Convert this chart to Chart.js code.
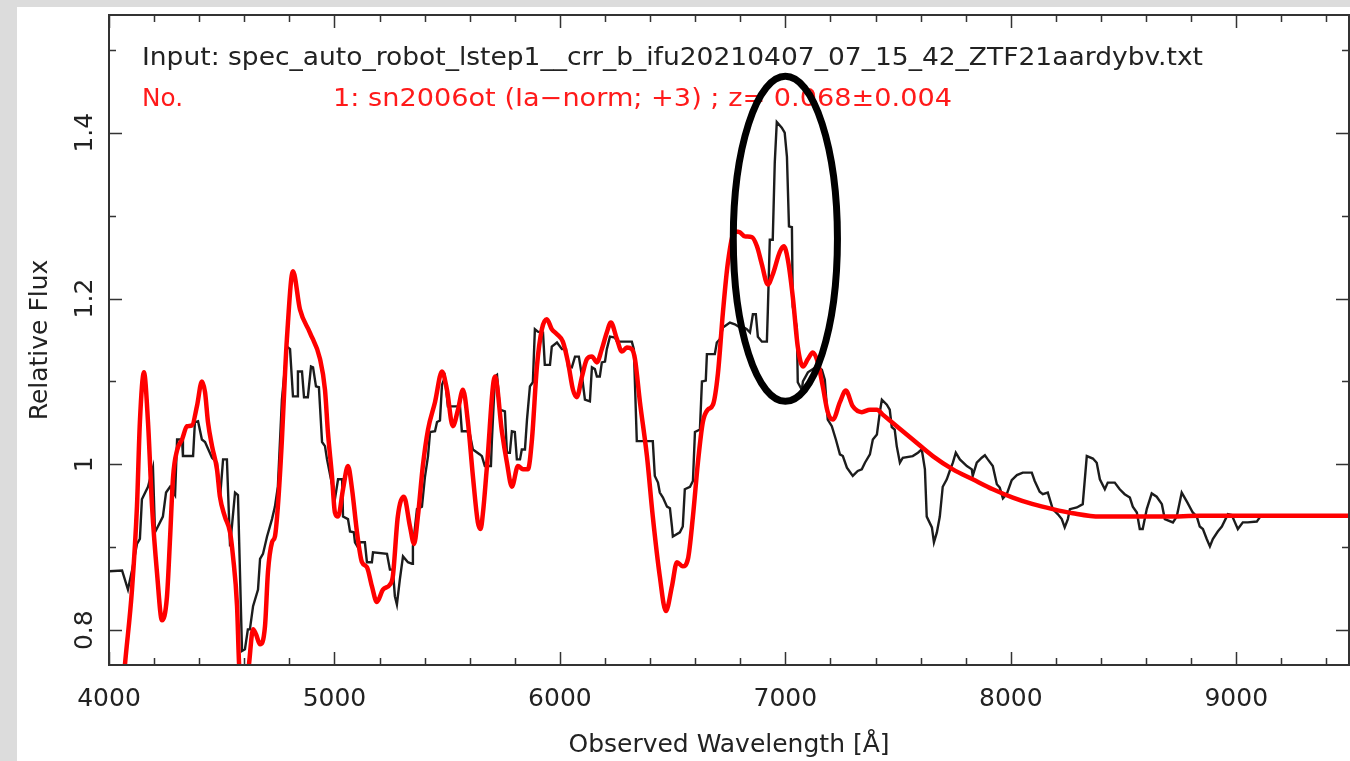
<!DOCTYPE html>
<html><head><meta charset="utf-8">
<script src="https://cdn.jsdelivr.net/npm/chart.js@4/dist/chart.umd.min.js"></script>
<style>html,body{margin:0;padding:0;background:#dcdcdc;overflow:hidden}canvas{display:block}</style>
</head><body>
<canvas id="c" width="1350" height="761"></canvas>
<script>
// ---- tick labels ----
const xTicks = [4000, 5000, 6000, 7000, 8000, 9000];
const yTicks = [0.8, 1, 1.2, 1.4];

// ---- observed spectrum (black) ----
const obsWave = [4000,4058,4084,4102,4124,4137,4146,4173,4195,4204,4239,4253,4271,4293,4302,4324,4328,4373,4381,4395,4412,4426,4457,4479,4492,4506,4523,4537,4559,4572,4590,4603,4616,4625,4639,4661,4670,4683,4701,4723,4736,4749,4767,4789,4803,4816,4834,4838,4856,4865,4882,4896,4905,4918,4931,4945,4958,4967,5002,5016,5034,5038,5060,5069,5086,5091,5104,5113,5135,5144,5166,5171,5233,5246,5259,5268,5277,5290,5304,5326,5344,5348,5366,5388,5401,5415,5424,5446,5455,5468,5477,5490,5503,5557,5565,5588,5601,5614,5645,5654,5667,5694,5698,5712,5721,5734,5756,5765,5778,5787,5800,5809,5823,5831,5845,5854,5867,5880,5889,5902,5925,5933,5956,5964,5987,6009,6027,6036,6053,6067,6084,6098,6111,6133,6142,6155,6164,6177,6186,6200,6208,6222,6244,6253,6319,6328,6341,6412,6421,6435,6443,6457,6475,6488,6497,6501,6532,6545,6554,6577,6590,6599,6621,6630,6647,6652,6687,6696,6709,6723,6754,6776,6798,6811,6829,6843,6856,6869,6878,6896,6918,6922,6931,6944,6953,6962,6984,6997,7007,7016,7029,7033,7051,7055,7073,7078,7100,7140,7162,7175,7188,7206,7224,7242,7255,7273,7299,7321,7339,7353,7375,7388,7406,7419,7428,7450,7463,7472,7485,7494,7508,7521,7565,7588,7605,7619,7627,7650,7659,7672,7685,7698,7716,7729,7743,7756,7774,7805,7827,7831,7849,7871,7885,7898,7920,7938,7951,7965,7982,8004,8027,8053,8093,8106,8128,8142,8164,8186,8208,8226,8239,8253,8262,8293,8319,8337,8364,8381,8395,8417,8430,8461,8483,8505,8528,8541,8559,8572,8585,8603,8625,8647,8670,8683,8719,8736,8758,8781,8807,8825,8838,8852,8869,8883,8896,8918,8936,8963,8980,8994,9007,9029,9051,9091,9104];
const obsFlux = [0.871,0.872,0.849,0.872,0.904,0.910,0.958,0.973,0.996,0.918,0.937,0.966,0.973,0.963,1.030,1.030,1.010,1.010,1.051,1.052,1.030,1.027,1.008,1.002,0.958,1.006,1.006,0.901,0.966,0.963,0.775,0.777,0.801,0.801,0.829,0.849,0.886,0.892,0.913,0.934,0.949,0.973,1.078,1.142,1.139,1.082,1.082,1.112,1.112,1.081,1.081,1.118,1.117,1.094,1.093,1.027,1.022,1.006,0.958,0.982,0.982,0.937,0.934,0.919,0.918,0.906,0.900,0.906,0.906,0.882,0.882,0.894,0.892,0.873,0.873,0.841,0.831,0.861,0.889,0.882,0.880,0.901,0.946,0.949,0.984,1.010,1.039,1.040,1.051,1.053,1.096,1.105,1.070,1.070,1.040,1.040,1.036,1.018,1.012,1.010,0.998,0.998,1.027,1.106,1.108,1.066,1.064,1.014,1.014,1.040,1.039,1.006,1.006,1.018,1.018,1.054,1.094,1.099,1.163,1.160,1.159,1.120,1.120,1.142,1.147,1.139,1.139,1.118,1.117,1.130,1.130,1.106,1.078,1.076,1.117,1.115,1.106,1.106,1.123,1.124,1.139,1.154,1.153,1.148,1.148,1.139,1.028,1.028,0.986,0.978,0.966,0.960,0.949,0.947,0.925,0.913,0.918,0.925,0.970,0.973,0.980,1.039,1.042,1.100,1.101,1.133,1.133,1.147,1.151,1.165,1.171,1.169,1.165,1.166,1.163,1.159,1.181,1.181,1.154,1.148,1.148,1.183,1.271,1.271,1.364,1.413,1.406,1.400,1.371,1.287,1.286,1.190,1.165,1.099,1.090,1.100,1.111,1.118,1.114,1.102,1.054,1.046,1.030,1.012,1.010,0.996,0.986,0.992,0.994,1.002,1.012,1.030,1.036,1.063,1.078,1.072,1.066,1.045,1.042,1.022,1.002,1.008,1.010,1.014,1.018,0.994,0.937,0.924,0.906,0.918,0.937,0.973,0.982,0.992,1.002,1.014,1.006,0.998,0.994,0.986,1.002,1.008,1.011,1.006,0.998,0.976,0.972,0.959,0.964,0.981,0.987,0.990,0.990,0.980,0.967,0.964,0.966,0.946,0.940,0.934,0.924,0.934,0.946,0.948,0.952,1.010,1.007,1.002,0.982,0.970,0.978,0.978,0.970,0.964,0.960,0.949,0.942,0.922,0.922,0.946,0.965,0.961,0.952,0.934,0.930,0.937,0.966,0.955,0.942,0.937,0.925,0.922,0.910,0.901,0.910,0.919,0.925,0.940,0.939,0.930,0.922,0.930,0.930,0.931,0.936];

// ---- best-match template (red) ----
const tplWave = [4050,4071,4102,4124,4137,4155,4173,4191,4213,4235,4257,4271,4284,4302,4324,4346,4368,4390,4412,4426,4439,4457,4479,4492,4514,4537,4550,4568,4577,4598,4621,4639,4652,4670,4692,4705,4723,4736,4749,4767,4781,4789,4816,4847,4891,4936,4958,4971,4989,5002,5016,5038,5060,5078,5100,5122,5144,5166,5188,5215,5246,5259,5281,5308,5335,5353,5370,5392,5415,5446,5477,5499,5525,5548,5570,5592,5614,5636,5648,5660,5676,5712,5743,5765,5787,5814,5836,5858,5876,5898,5920,5942,5964,5987,6013,6036,6058,6075,6098,6120,6142,6164,6186,6208,6226,6253,6275,6297,6319,6333,6355,6386,6412,6443,6470,6497,6519,6545,6568,6590,6612,6634,6656,6679,6701,6723,6745,6776,6798,6820,6851,6874,6896,6922,6944,6975,6993,7011,7033,7055,7078,7100,7122,7144,7166,7188,7211,7242,7268,7299,7339,7375,7406,7432,7494,7565,7654,7743,7831,7920,8009,8098,8186,8275,8395,8541,8692,8838,9135,9500];
const tplFlux = [0.690,0.759,0.849,0.949,1.051,1.111,1.051,0.949,0.869,0.812,0.840,0.912,0.984,1.017,1.030,1.046,1.047,1.070,1.100,1.087,1.051,1.022,0.994,0.961,0.937,0.918,0.889,0.829,0.759,0.700,0.759,0.801,0.795,0.783,0.805,0.870,0.906,0.913,0.949,1.030,1.111,1.151,1.233,1.187,1.159,1.127,1.090,1.039,0.986,0.942,0.937,0.970,0.998,0.970,0.918,0.882,0.876,0.853,0.834,0.849,0.855,0.865,0.937,0.961,0.925,0.904,0.937,0.998,1.042,1.075,1.112,1.090,1.046,1.066,1.090,1.051,0.986,0.930,0.922,0.945,0.996,1.106,1.039,1.002,0.973,0.998,0.994,0.994,1.030,1.118,1.163,1.175,1.163,1.157,1.148,1.123,1.090,1.081,1.106,1.127,1.130,1.123,1.139,1.159,1.171,1.151,1.136,1.141,1.139,1.127,1.075,1.010,0.937,0.865,0.823,0.853,0.882,0.877,0.886,0.937,1.002,1.051,1.066,1.072,1.110,1.183,1.243,1.281,1.280,1.275,1.274,1.263,1.241,1.217,1.229,1.256,1.263,1.247,1.202,1.142,1.118,1.127,1.135,1.123,1.094,1.063,1.054,1.075,1.089,1.070,1.063,1.066,1.066,1.060,1.046,1.030,1.010,0.994,0.982,0.970,0.960,0.952,0.946,0.941,0.937,0.937,0.937,0.938,0.938,0.938];

// ---- annotations ----
const inputLabel = 'Input: spec_auto_robot_lstep1__crr_b_ifu20210407_07_15_42_ZTF21aardybv.txt';
const matchNo = 'No.';
const matchLabel = '1: sn2006ot (Ia\u2212norm; +3) ; z= 0.068\u00b10.004';
const highlight = { x: 7000, y: 1.272, rx: 231, ry: 0.196 };

const FONT = '"DejaVu Sans", "Liberation Sans", sans-serif';
const INK = '#222222';

const obsData = obsWave.map((w, i) => ({ x: w, y: obsFlux[i] }));
const tplData = tplWave.map((w, i) => ({ x: w, y: tplFlux[i] }));

function fitText(ctx, text, x, y, width) {
  const w = ctx.measureText(text).width;
  ctx.save();
  ctx.translate(x, y);
  ctx.scale(width / w, 1);
  ctx.fillText(text, 0, 0);
  ctx.restore();
}

const decor = {
  id: 'decor',
  beforeDraw(chart) {
    const ctx = chart.ctx;
    ctx.save();
    ctx.fillStyle = '#dcdcdc';
    ctx.fillRect(0, 0, chart.width, chart.height);
    ctx.fillStyle = '#ffffff';
    ctx.fillRect(17, 7, chart.width - 17, chart.height - 7);
    ctx.restore();
  },
  afterDraw(chart) {
    const { ctx, chartArea: a, scales: { x, y } } = chart;
    ctx.save();
    // frame
    ctx.strokeStyle = '#333333';
    ctx.lineWidth = 2;
    ctx.strokeRect(a.left, a.top, a.right - a.left, a.bottom - a.top);
    // inner ticks
    ctx.lineWidth = 1.5;
    ctx.beginPath();
    for (let v = 4000; v <= 9500; v += 200) {
      const px = Math.round(x.getPixelForValue(v)) + 0.5;
      const len = v % 1000 === 0 ? 13 : 7;
      ctx.moveTo(px, a.bottom); ctx.lineTo(px, a.bottom - len);
      ctx.moveTo(px, a.top); ctx.lineTo(px, a.top + len);
    }
    for (let k = 8; k <= 15; k++) {
      const py = Math.round(y.getPixelForValue(k / 10)) + 0.5;
      const len = k % 2 === 0 ? 13 : 7;
      ctx.moveTo(a.left, py); ctx.lineTo(a.left + len, py);
      ctx.moveTo(a.right, py); ctx.lineTo(a.right - len, py);
    }
    ctx.stroke();
    // header texts
    ctx.font = '25px ' + FONT;
    ctx.textBaseline = 'alphabetic';
    ctx.textAlign = 'left';
    ctx.fillStyle = INK;
    fitText(ctx, inputLabel, a.left + 33, a.top + 50, 1061);
    ctx.fillStyle = '#ff1a1a';
    fitText(ctx, matchNo, a.left + 33, a.top + 91, 41);
    fitText(ctx, matchLabel, a.left + 224, a.top + 91, 619);
    // highlight ellipse
    const cx = x.getPixelForValue(highlight.x);
    const cy = y.getPixelForValue(highlight.y);
    const rx = Math.abs(x.getPixelForValue(highlight.x + highlight.rx) - cx);
    const ry = Math.abs(y.getPixelForValue(highlight.y + highlight.ry) - cy);
    ctx.beginPath();
    ctx.ellipse(cx, cy, rx, ry, 0, 0, Math.PI * 2);
    ctx.lineWidth = 7;
    ctx.strokeStyle = '#000000';
    ctx.stroke();
    ctx.restore();
  }
};

new Chart(document.getElementById('c'), {
  type: 'line',
  data: {
    datasets: [
      { label: 'template', data: tplData, borderColor: '#ff0000', borderWidth: 4.5, pointRadius: 0,
        cubicInterpolationMode: 'monotone', clip: 0, order: 0 },
      { label: 'observed', data: obsData, borderColor: '#1c1c1c', borderWidth: 2.4, pointRadius: 0,
        tension: 0, clip: 0, order: 1 }
    ]
  },
  options: {
    responsive: false,
    animation: false,
    devicePixelRatio: 1,
    layout: { padding: { top: 15, right: 1, bottom: 0, left: 0 } },
    plugins: { legend: { display: false }, tooltip: { enabled: false } },
    scales: {
      x: {
        type: 'linear', min: 4000, max: 9500,
        grid: { display: false }, border: { display: false },
        afterBuildTicks: s => { s.ticks = xTicks.map(v => ({ value: v })); },
        afterFit: s => { s.height = 96; s.paddingLeft = 0; s.paddingRight = 0; },
        ticks: { color: INK, font: { family: FONT, size: 25 }, padding: 11, maxRotation: 0, minRotation: 0,
                 callback: v => String(v) },
        title: { display: true, text: 'Observed Wavelength [\u00c5]', color: INK,
                 font: { family: FONT, size: 25 }, padding: { top: 0, bottom: 1 } }
      },
      y: {
        type: 'linear', min: 0.758, max: 1.542,
        grid: { display: false }, border: { display: false },
        afterBuildTicks: s => { s.ticks = yTicks.map(v => ({ value: v })); },
        afterFit: s => { s.width = 109; s.paddingTop = 0; s.paddingBottom = 0; },
        ticks: { color: INK, font: { family: FONT, size: 25 }, padding: -4, minRotation: 90, maxRotation: 90,
                 crossAlign: 'center', callback: v => String(v) },
        title: { display: true, text: 'Relative Flux', color: INK,
                 font: { family: FONT, size: 25 }, padding: { top: 25, bottom: 0 } }
      }
    }
  },
  plugins: [decor]
});
</script>
</body></html>
